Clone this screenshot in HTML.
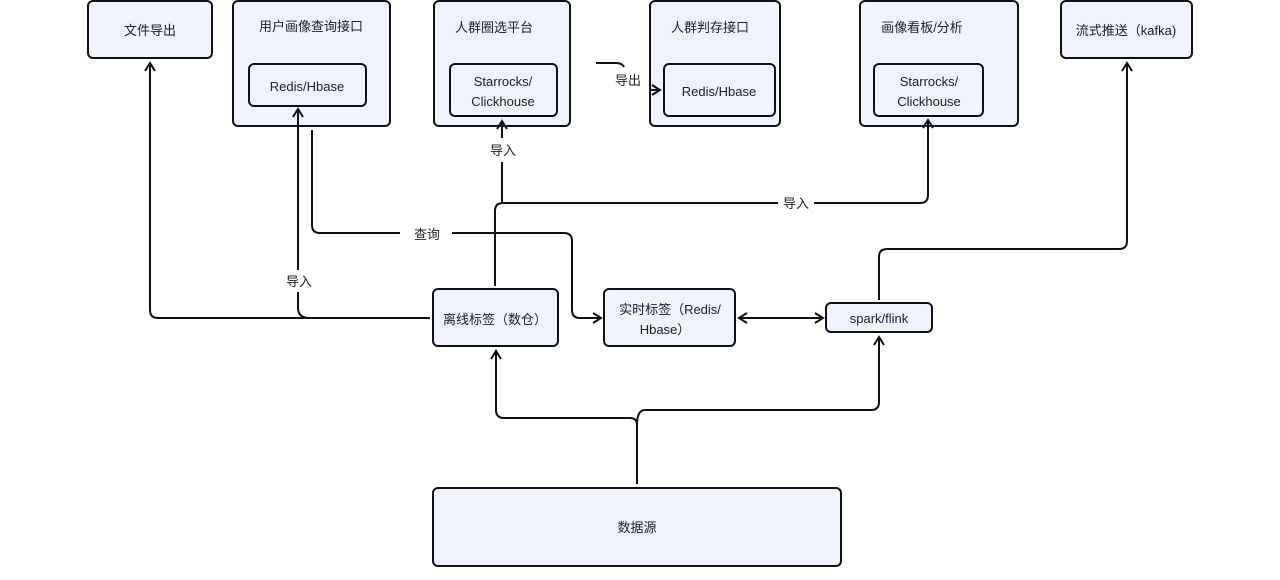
<!DOCTYPE html>
<html><head><meta charset="utf-8"><style>
html,body{margin:0;padding:0;background:#fff;}
svg{display:block}
text{font-family:"Liberation Sans","Noto Sans CJK SC",sans-serif;font-size:13px;fill:#222;}
</style></head><body>
<svg width="1280" height="580" viewBox="0 0 1280 580" xmlns="http://www.w3.org/2000/svg">
<defs>
<marker id="a" markerWidth="12" markerHeight="12" refX="10" refY="6" orient="auto-start-reverse" markerUnits="userSpaceOnUse">
<path d="M2,1 L10,6 L2,11" fill="none" stroke="#111" stroke-width="2"/>
</marker>
</defs>
<g fill="#eef3fd" stroke="#111" stroke-width="2">
<rect x="88" y="1" width="124" height="57" rx="5"/>
<rect x="233" y="1" width="157" height="125" rx="5"/>
<rect x="249" y="64" width="117" height="42" rx="5"/>
<rect x="434" y="1" width="136" height="125" rx="5"/>
<rect x="450" y="64" width="107" height="52" rx="5"/>
<rect x="650" y="1" width="130" height="125" rx="5"/>
<rect x="664" y="64" width="111" height="52" rx="5"/>
<rect x="860" y="1" width="158" height="125" rx="5"/>
<rect x="874" y="64" width="109" height="52" rx="5"/>
<rect x="1061" y="1" width="131" height="57" rx="5"/>
<rect x="433" y="289" width="125" height="57" rx="5"/>
<rect x="604" y="289" width="131" height="57" rx="5"/>
<rect x="826" y="303" width="106" height="29" rx="5"/>
<rect x="433" y="488" width="408" height="78" rx="5"/>
</g>
<g fill="none" stroke="#111" stroke-width="2">
<path d="M430,318 H158 Q150,318 150,310 V63" marker-end="url(#a)"/>
<path d="M310,318 Q298,318 298,308 V292"/>
<path d="M298,270 V109" marker-end="url(#a)"/>
<path d="M312,130 V225 Q312,233 320,233 H400"/>
<path d="M452,233 H564 Q572,233 572,241 V310 Q572,318 580,318 H601" marker-end="url(#a)"/>
<path d="M495,286 V211 Q495,203 503,203 H778"/>
<path d="M814,203 H920 Q928,203 928,195 V120" marker-end="url(#a)"/>
<path d="M502,203 V162"/>
<path d="M502,138 V121" marker-end="url(#a)"/>
<path d="M596,63 H616 Q622,63 624,67"/>
<path d="M650,90 H660" marker-end="url(#a)"/>
<path d="M739,318 H823" marker-start="url(#a)" marker-end="url(#a)"/>
<path d="M879,300 V257 Q879,249 887,249 H1119 Q1127,249 1127,241 V63" marker-end="url(#a)"/>
<path d="M637,484 V425 Q637,418 630,418 H504 Q496,418 496,410 V351" marker-end="url(#a)"/>
<path d="M637,425 Q637,410 645,410 H871 Q879,410 879,402 V337" marker-end="url(#a)"/>
</g>
<g text-anchor="middle">
<text x="150" y="35">文件导出</text>
<text x="311" y="31">用户画像查询接口</text>
<text x="307" y="91">Redis/Hbase</text>
<text x="494" y="32">人群圈选平台</text>
<text x="503" y="86">Starrocks/</text>
<text x="503" y="106">Clickhouse</text>
<text x="710" y="32">人群判存接口</text>
<text x="719" y="96">Redis/Hbase</text>
<text x="922" y="32">画像看板/分析</text>
<text x="929" y="86">Starrocks/</text>
<text x="929" y="106">Clickhouse</text>
<text x="1126" y="35">流式推送（kafka)</text>
<text x="495" y="324">离线标签（数仓）</text>
<text x="670" y="314">实时标签（Redis/</text>
<text x="665" y="334">Hbase）</text>
<text x="879" y="323">spark/flink</text>
<text x="637" y="532">数据源</text>
<text x="299" y="286">导入</text>
<text x="427" y="239">查询</text>
<text x="503" y="155">导入</text>
<text x="796" y="208">导入</text>
<text x="628" y="85">导出</text>
</g>
</svg>
</body></html>
